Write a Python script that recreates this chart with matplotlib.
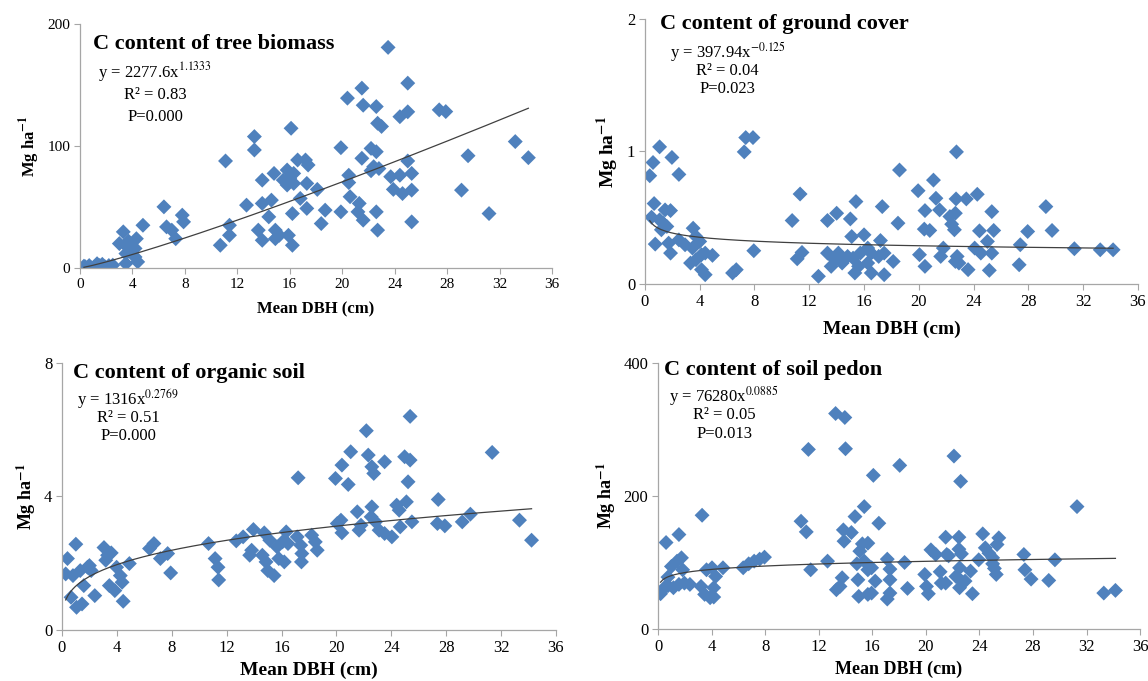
import numpy as np
import matplotlib
matplotlib.use("Agg")
import matplotlib.pyplot as plt

plt.rcParams['font.family'] = ['Liberation Serif', 'DejaVu Serif']
plt.rcParams['mathtext.fontset'] = 'stix'

# ---- data: mean DBH (cm) vs C content (Mg ha-1) ----
tree_x = [23.5, 25.0, 21.5, 20.4, 21.6, 22.6, 27.4, 27.9, 25.0, 24.4, 22.7, 23.0,
          16.1, 13.3, 33.2, 13.3, 19.9, 22.2, 22.6, 11.1, 21.5, 29.6, 34.2, 25.0,
          16.6, 17.2, 17.4, 22.4, 22.8, 22.2, 20.5, 23.7, 24.4, 25.3, 14.8, 15.8,
          16.3, 13.9, 15.5, 16.0, 15.8, 16.3, 17.3, 20.5, 23.9, 24.6, 25.3, 29.1,
          18.1, 20.6, 16.8, 14.6, 13.9, 21.3, 12.7, 6.4, 17.3, 18.7, 19.9, 22.6,
          31.2, 16.2, 14.4, 21.2, 21.6, 25.3, 7.8, 7.9, 18.4, 11.4, 13.6, 22.7,
          4.8, 6.6, 7.0, 7.3, 11.4, 14.9, 15.2, 15.9, 14.9, 16.2, 13.9, 10.7,
          3.3, 3.0, 3.6, 4.2, 4.3, 3.7, 3.5, 4.2, 4.4, 3.5, 0.4, 0.7, 1.1, 1.5,
          1.9, 2.2, 0.8, 1.7, 2.5, 0.3, 1.3]
tree_y = [180.8, 151.5, 147.4, 139.2, 133.4, 132.3, 129.6, 128.2, 128.0, 124.0, 118.6, 116.0,
          114.5, 107.7, 103.6, 96.7, 98.6, 98.0, 95.3, 87.7, 89.9, 92.0, 90.4, 87.7,
          88.5, 88.5, 84.4, 83.0, 81.5, 79.7, 76.0, 74.8, 76.0, 77.5, 77.5, 80.3,
          77.5, 72.0, 72.0, 73.5, 68.0, 69.3, 69.3, 70.0, 64.4, 61.0, 63.8, 63.8,
          64.4, 58.4, 57.0, 55.6, 52.9, 52.9, 51.5, 50.1, 48.8, 47.4, 46.0, 46.0,
          44.6, 44.6, 41.9, 46.0, 39.2, 37.8, 43.3, 37.8, 36.4, 35.0, 31.0, 31.0,
          35.0, 33.7, 31.0, 24.0, 26.8, 31.0, 26.8, 26.8, 24.0, 18.6, 22.7, 18.6,
          29.6, 20.0, 17.3, 16.0, 24.0, 22.0, 11.8, 9.0, 5.0, 3.6, 1.0, 2.0, 1.0, 2.0,
          1.0, 2.0, 0.5, 3.0, 2.3, 1.5, 3.5]

ground_x = [0.35, 0.59, 1.07, 1.97, 2.48, 0.67, 0.48, 1.47, 1.87, 1.07, 1.33, 1.6, 1.2,
            0.75, 1.73, 1.87, 2.48, 2.93, 3.52, 3.73, 4.0, 3.47, 3.33, 3.73, 4.13, 4.4,
            4.93, 4.13, 4.4, 6.4, 6.67, 7.25, 7.36, 7.89, 7.95, 10.75, 11.33, 11.47,
            11.12, 12.67, 13.33, 14.0, 13.33, 13.6, 13.87, 14.13, 14.4, 14.8, 15.2,
            15.0, 15.41, 15.1, 16.0, 15.33, 15.6, 15.73, 16.27, 16.53, 16.27, 16.53,
            17.33, 17.2, 17.47, 17.07, 17.47, 18.13, 18.48, 18.59, 19.95, 20.05, 20.45,
            20.45, 20.4, 20.8, 21.07, 21.25, 21.52, 21.6, 21.79, 22.27, 22.4, 22.6,
            22.67, 22.75, 22.72, 22.67, 22.8, 22.93, 23.47, 23.6, 24.27, 24.43, 24.08,
            24.53, 25.01, 25.15, 25.33, 25.47, 25.33, 27.41, 27.33, 27.95, 29.28,
            29.73, 31.36, 33.25, 34.19]
ground_y = [0.817, 0.917, 1.035, 0.955, 0.827, 0.607, 0.504, 0.559, 0.554, 0.484, 0.459, 0.434, 0.409,
            0.301, 0.308, 0.233, 0.333, 0.296, 0.421, 0.358, 0.321, 0.271, 0.158, 0.183, 0.221, 0.233,
            0.216, 0.108, 0.070, 0.083, 0.108, 0.997, 1.105, 1.105, 0.251, 0.479, 0.679, 0.238,
            0.190, 0.058, 0.479, 0.534, 0.233, 0.133, 0.183, 0.233, 0.158, 0.208, 0.195,
            0.491, 0.622, 0.358, 0.371, 0.083, 0.133, 0.233, 0.271, 0.233, 0.158, 0.083,
            0.584, 0.328, 0.233, 0.208, 0.070, 0.170, 0.459, 0.860, 0.704, 0.221, 0.133,
            0.554, 0.414, 0.404, 0.784, 0.647, 0.559, 0.208, 0.271, 0.509, 0.451, 0.409,
            0.534, 0.997, 0.642, 0.170, 0.208, 0.158, 0.642, 0.108, 0.677, 0.401, 0.271,
            0.233, 0.321, 0.103, 0.546, 0.404, 0.233, 0.296, 0.145, 0.396, 0.584,
            0.404, 0.266, 0.258, 0.258]

organic_x = [0.27, 0.4, 0.8, 0.66, 1.06, 1.46, 1.01, 1.33, 1.59, 1.86, 2.13, 2.0, 2.39,
             3.06, 3.32, 3.59, 3.19, 3.45, 3.85, 3.98, 4.25, 4.38, 4.46, 4.91, 6.38, 6.7,
             7.17, 7.7, 7.92, 10.68, 11.16, 11.37, 11.42, 12.7, 13.2, 13.95, 13.82, 13.68,
             14.74, 15.14, 14.6, 14.87, 15.0, 15.46, 15.67, 16.07, 16.47, 15.8, 16.2, 16.34,
             17.21, 17.14, 17.4, 17.48, 17.45, 18.2, 18.46, 18.6, 19.93, 20.4, 20.86, 21.04,
             20.06, 20.33, 20.4, 21.52, 21.65, 21.79, 22.18, 22.32, 22.58, 22.72, 22.58,
             22.53, 22.85, 23.51, 23.11, 23.51, 24.04, 24.39, 24.57, 24.65, 25.1, 25.22,
             24.97, 25.37, 25.37, 25.5, 27.42, 27.36, 27.9, 29.17, 29.76, 31.35, 33.34, 34.22]
organic_y = [1.68, 2.14, 1.63, 0.98, 0.68, 0.78, 2.57, 1.78, 1.33, 1.88, 1.78, 1.93, 1.03,
             2.47, 2.24, 2.31, 2.09, 1.33, 1.18, 1.88, 1.63, 1.43, 0.86, 1.99, 2.44, 2.59,
             2.14, 2.29, 1.71, 2.59, 2.14, 1.88, 1.50, 2.67, 2.79, 3.01, 2.39, 2.24,
             2.91, 2.69, 2.24, 2.04, 1.78, 1.63, 2.49, 2.64, 2.59, 2.14, 2.04, 2.94,
             4.56, 2.79, 2.54, 2.29, 2.04, 2.84, 2.64, 2.39, 4.54, 4.94, 4.36, 5.34,
             3.19, 3.29, 2.91, 3.54, 2.99, 3.14, 5.97, 5.24, 4.89, 4.69, 3.69,
             3.39, 3.24, 5.04, 2.99, 2.89, 2.79, 3.74, 3.59, 3.09, 3.84, 4.44,
             5.19, 5.09, 6.40, 3.24, 3.91, 3.19, 3.12, 3.24, 3.47, 5.32, 3.29, 2.69]

pedon_x = [0.19, 0.47, 0.74, 0.6, 0.74, 1.0, 1.42, 1.75, 1.56, 1.15, 1.56, 1.97, 1.84,
           2.38, 3.29, 3.21, 3.48, 3.89, 4.16, 3.62, 4.03, 4.3, 4.16, 4.85, 6.36, 6.77,
           7.18, 7.59, 7.95, 10.68, 11.07, 11.23, 11.4, 12.66, 13.26, 13.95, 14.0, 13.84,
           13.89, 14.44, 13.32, 13.59, 13.75, 14.71, 15.4, 15.07, 15.26, 15.67, 14.85,
           15.4, 15.67, 15.95, 14.93, 16.22, 14.99, 15.67, 15.95, 16.08, 16.49, 17.12,
           17.32, 17.32, 17.12, 17.32, 18.05, 18.41, 18.63, 19.92, 20.05, 20.19, 20.38,
           20.74, 21.07, 21.15, 21.48, 21.48, 21.56, 21.7, 22.1, 22.6, 22.25, 22.52,
           22.66, 22.93, 22.52, 22.47, 22.47, 22.66, 23.48, 23.34, 23.95, 24.25, 24.44,
           24.71, 24.99, 24.99, 25.12, 25.26, 25.45, 25.32, 27.32, 27.4, 27.86, 29.18,
           29.64, 31.29, 33.29, 34.16]
pedon_y = [53, 62, 65, 130, 78, 94, 102, 107, 142, 62, 67, 69, 89,
           67, 171, 64, 52, 47, 48, 89, 92, 79, 62, 92, 92, 98,
           102, 105, 108, 162, 146, 270, 89, 102, 324, 318, 271, 149,
           132, 145, 59, 64, 77, 169, 184, 117, 128, 129, 98,
           102, 89, 92, 74, 72, 49, 52, 54, 231, 159, 105,
           90, 74, 45, 54, 246, 100, 61, 82, 64, 53, 119,
           112, 86, 69, 69, 138, 112, 110, 260, 222, 79, 62,
           72, 72, 92, 138, 120, 113, 53, 87, 104, 143, 122,
           114, 107, 98, 91, 82, 137, 127, 112, 89, 75, 73,
           104, 184, 54, 58]

titles = ["C content of tree biomass", "C content of ground cover",
          "C content of organic soil", "C content of soil pedon"]
equations = [r"y = 2277.6x$^{1.1333}$", r"y = 397.94x$^{-0.125}$",
             r"y = 1316x$^{0.2769}$", r"y = 76280x$^{0.0885}$"]
r_squared = ["R² = 0.83", "R² = 0.04", "R² = 0.51", "R² = 0.05"]
p_values = ["P=0.000", "P=0.023", "P=0.000", "P=0.013"]
y_ticks = [[0, 100, 200], [0, 1, 2], [0, 4, 8], [0, 200, 400]]
x_ticks = list(range(0, 37, 4))

panels = [(tree_x, tree_y), (ground_x, ground_y), (organic_x, organic_y), (pedon_x, pedon_y)]

# axes rectangles (figure fraction) and text placement (axes fraction)
rects = [[0.0697, 0.6065, 0.4111, 0.3583],
         [0.5618, 0.5830, 0.4294, 0.3891],
         [0.0540, 0.0749, 0.4303, 0.3921],
         [0.5732, 0.0764, 0.4199, 0.3906]]
title_pos = [(0.028, 0.918), (0.030, 0.981), (0.022, 0.963), (0.012, 0.974)]
eq_pos = [(0.159, [0.803, 0.709, 0.619]),
          (0.168, [0.875, 0.804, 0.736]),
          (0.134, [0.865, 0.794, 0.727]),
          (0.137, [0.876, 0.805, 0.733])]
lab_size = [(12, 12), (14, 14), (13, 14), (13, 13)]
xlab_pad = [8, 8, 4, 4]
tick_size = [11, 12, 12, 12]

blue = '#4F81BD'
gray = '#A6A6A6'

fig = plt.figure(figsize=(11.48, 6.81), dpi=100)

for i, (xs, ys) in enumerate(panels):
    ax = fig.add_axes(rects[i])
    xs = np.array(xs)
    ys = np.array(ys)
    ax.scatter(xs, ys, marker='D', s=58, color=blue, edgecolors='none', zorder=2)

    # power trend line, fitted like a spreadsheet power trendline
    b, log_a = np.polyfit(np.log(xs), np.log(ys), 1)
    xf = np.linspace(xs.min(), xs.max(), 200)
    ax.plot(xf, np.exp(log_a) * xf ** b, color='#404040', lw=0.9, zorder=3)

    ax.set_xlim(0, 36)
    ax.set_ylim(y_ticks[i][0], y_ticks[i][-1])
    ax.set_xticks(x_ticks)
    ax.set_yticks(y_ticks[i])
    ax.tick_params(direction='out', length=4, width=0.8, color=gray,
                   labelsize=tick_size[i], pad=3)
    for s in ['top', 'right']:
        ax.spines[s].set_visible(False)
    for s in ['left', 'bottom']:
        ax.spines[s].set_color(gray)
        ax.spines[s].set_linewidth(0.9)
    ax.set_facecolor('none')

    ax.set_ylabel(r"Mg ha$^{\mathbf{-1}}$", fontsize=lab_size[i][0], fontweight='bold')
    ax.set_xlabel("Mean DBH (cm)", fontsize=lab_size[i][1], fontweight='bold',
                  labelpad=xlab_pad[i])

    tx, ty = title_pos[i]
    ax.text(tx, ty, titles[i], transform=ax.transAxes, fontsize=16,
            fontweight='bold', ha='left', va='center')
    ex, eys = eq_pos[i]
    for txt, yy in zip([equations[i], r_squared[i], p_values[i]], eys):
        ax.text(ex, yy, txt, transform=ax.transAxes, fontsize=12,
                ha='center', va='center')

fig.savefig('out.png', dpi=100)
